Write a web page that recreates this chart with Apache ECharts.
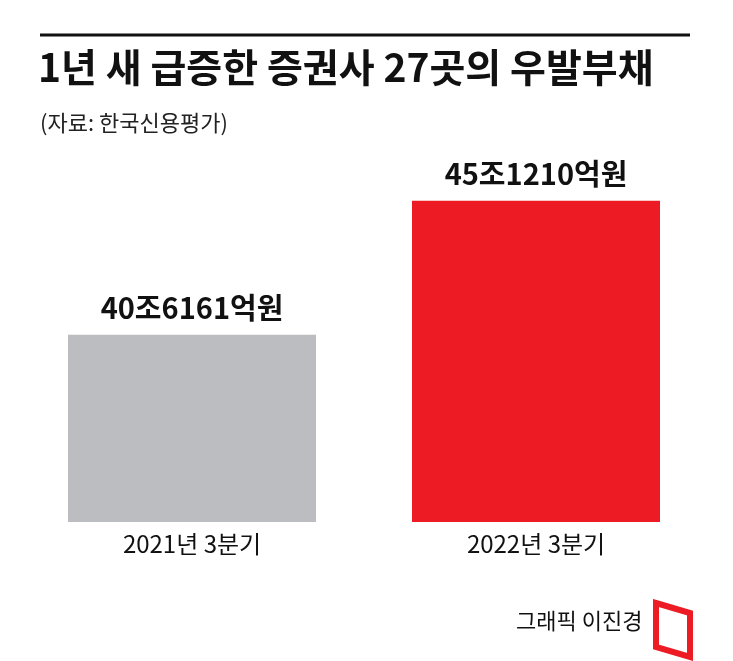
<!DOCTYPE html>
<html><head><meta charset="utf-8">
<script src="https://cdn.jsdelivr.net/npm/echarts@6/dist/echarts.min.js"></script>
<style>html,body{margin:0;padding:0;background:#fff}#c{width:733px;height:661px}</style>
</head><body><div id="c"></div>
<script>
const categories = ['2021년 3분기', '2022년 3분기'];
const values = [40.6161, 45.121];
const valueLabels = ['40조6161억원', '45조1210억원'];
const colors = ['#bcbdc0', '#ed1c24'];
const F = '"Noto Sans CJK KR", "Noto Sans", sans-serif';
const chart = echarts.init(document.getElementById('c'));
chart.setOption({
  animation: false,
  grid: { left: 20, right: 25, top: 100, bottom: 139 },
  xAxis: { type: 'category', data: categories, axisLine: { show: false }, axisTick: { show: false },
    axisLabel: { fontFamily: F, fontSize: 24, color: '#111', margin: 10 } },
  yAxis: { type: 'value', min: 34.33, max: 48.5, show: false, splitLine: { show: false } },
  series: [{
    type: 'bar', barWidth: 248,
    data: values.map((v, i) => ({ value: v, itemStyle: { color: colors[i] } })),
    label: { show: true, position: 'top', distance: 12, fontFamily: F, fontSize: 29, fontWeight: 'bold', color: '#111',
      formatter: p => valueLabels[p.dataIndex] }
  }],
  graphic: [
    { type: 'line', shape: { x1: 40, y1: 35, x2: 690, y2: 35 }, style: { stroke: '#111', lineWidth: 3 } },
    { type: 'text', left: 38, top: 48, style: { text: '1년 새 급증한 증권사 27곳의 우발부채', font: 'bold 39px ' + F, fill: '#111' } },
    { type: 'text', left: 40, top: 112, style: { text: '(자료: 한국신용평가)', font: '22px ' + F, fill: '#222' } },
    { type: 'text', left: 516, top: 610, style: { text: '그래픽 이진경', font: '22px ' + F, fill: '#111' } },
    { type: 'polygon', shape: { points: [[656, 603], [690, 613], [690, 657], [656, 647]] }, style: { fill: 'none', stroke: '#ed1c24', lineWidth: 6 } }
  ]
});
</script></body></html>
